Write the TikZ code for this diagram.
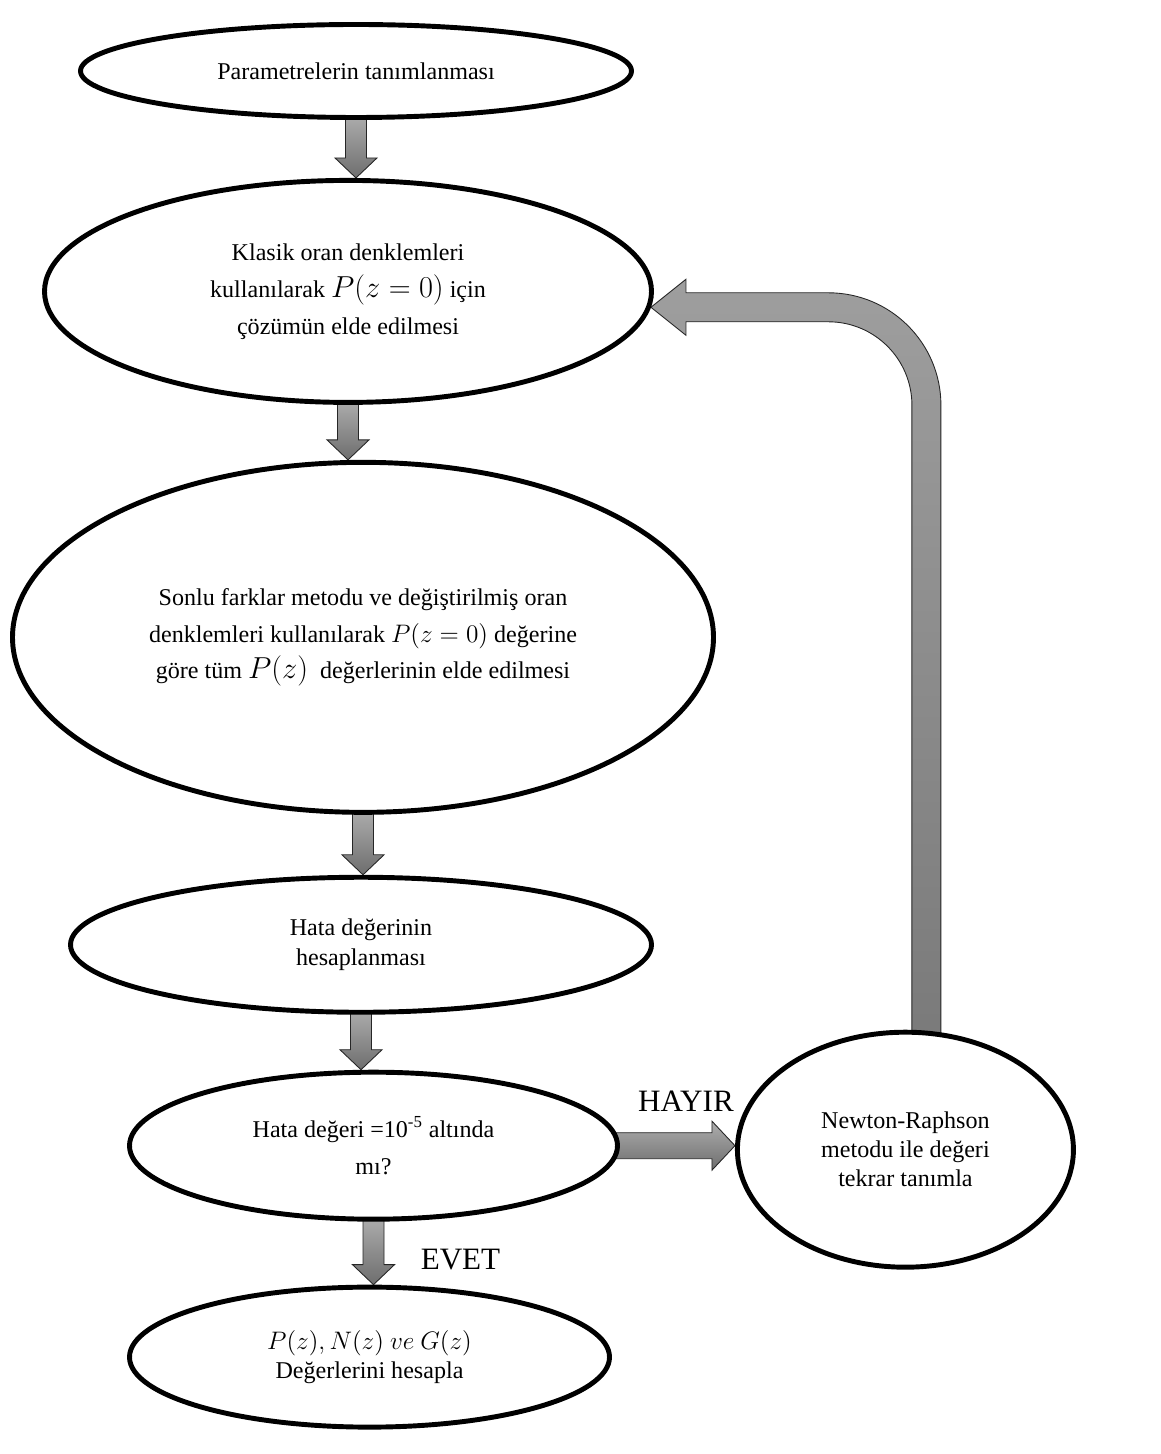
\documentclass[tikz,border=0pt]{standalone}
\usepackage{fontspec}
\setmainfont{Liberation Serif}
\usepackage{amsmath}
\usepackage{tikz}
\usetikzlibrary{shapes.geometric,positioning,calc,backgrounds}
\tikzset{
  % Base ellipse
  EL/.style={ellipse,draw,line width=2.8pt,fill=white,
             align=center,inner sep=0pt,
             font=\fontsize{13.7}{16.5}\selectfont},
  % Ellipse with formulas in its lines
  ELm/.style={EL,font=\fontsize{13.7}{21}\selectfont},
  % Block arrow body
  BA/.style={draw=black!85,line width=0.5pt,
             top color=black!32,bottom color=black!57},
  % Yes / No labels
  LB/.style={font=\fontsize{17.7}{20}\selectfont}
}
% larger formula
\newcommand{\BigM}[1]{{\fontsize{16.5}{21}\selectfont$#1$}}
% downward block arrow: shaft from #1, tip at #2
\newcommand{\DownBlock}[2]{%
  \path[BA] ($(#1)+(-0.21,0.1)$) -- ($(#2)+(-0.21,0.40)$) -- ($(#2)+(-0.42,0.40)$)
    -- (#2) -- ($(#2)+(0.42,0.40)$) -- ($(#2)+(0.21,0.40)$)
    -- ($(#1)+(0.21,0.1)$) -- cycle;}

\begin{document}
\begin{tikzpicture}
  \useasboundingbox (0,0) rectangle (23.22,-29.08);

  \node[EL,minimum width=11.02cm,minimum height=1.86cm] (par) at (7.12,-1.42)
       {Parametrelerin tanımlanması};
  \node[ELm,minimum width=12.14cm,minimum height=4.44cm,below=1.16cm of par,xshift=-0.16cm] (klas)
       {Klasik oran denklemleri\\kullanılarak \BigM{P(z=0)} için\\çözümün elde edilmesi};
  \node[ELm,minimum width=14.02cm,minimum height=7.0cm,below=1.10cm of klas,xshift=0.30cm] (sonlu)
       {Sonlu farklar metodu ve değiştirilmiş oran\\denklemleri kullanılarak $P(z=0)$ değerine\\göre tüm \BigM{P(z)}\ \ değerlerinin elde edilmesi};
  \node[EL,minimum width=11.62cm,minimum height=2.70cm,below=1.20cm of sonlu,xshift=-0.04cm,
        font=\fontsize{13.7}{17.5}\selectfont] (hata)
       {Hata değerinin\\hesaplanması};
  \node[ELm,minimum width=9.76cm,minimum height=2.94cm,below=1.10cm of hata,xshift=0.25cm] (kont)
       {Hata değeri =10\textsuperscript{-5} altında\\mı?};
  \node[EL,minimum width=6.72cm,minimum height=4.70cm,right=2.30cm of kont,yshift=-0.08cm] (newt)
       {Newton-Raphson\\metodu ile değeri\\tekrar tanımla};
  \node[EL,minimum width=9.60cm,minimum height=2.80cm,below=1.26cm of kont,xshift=-0.08cm] (sonuc)
       {$P(z), N(z)\ ve\ G(z)$\\Değerlerini hesapla};

  \node[LB] (hayir) at ($(kont.east)!0.5!(newt.west)+(0.17,0.93)$) {HAYIR};
  \node[LB] (evet)  at ($(kont.south)!0.5!(sonuc.north)+(1.78,-0.13)$) {EVET};

  \coordinate (a1) at (par.south |- klas.north);
  \coordinate (a2) at (klas.south |- sonlu.north);
  \coordinate (a3) at (sonlu.south |- hata.north);
  \coordinate (a4) at (hata.south |- kont.north);
  \coordinate (a5) at (kont.south |- sonuc.north);
  \coordinate (hy) at (kont.east -| newt.west);
  \coordinate (fbS) at ($(newt.north)+(0.42,-0.15)$);
  \coordinate (fbT) at (klas.-3);
  \coordinate (fbC) at (fbS |- fbT);

  \begin{scope}[on background layer]
    \DownBlock{par.south}{a1}
    \DownBlock{klas.south}{a2}
    \DownBlock{sonlu.south}{a3}
    \DownBlock{hata.south}{a4}
    \DownBlock{kont.south}{a5}
    % no -> Newton-Raphson
    \path[BA] ($(kont.east)+(-0.1,0.26)$) -- ($(hy)+(-0.46,0.26)$) -- ($(hy)+(-0.46,0.49)$)
      -- (hy) -- ($(hy)+(-0.46,-0.49)$) -- ($(hy)+(-0.46,-0.26)$)
      -- ($(kont.east)+(-0.1,-0.26)$) -- cycle;
    % back to the start
    \path[BA,top color=black!38,bottom color=black!52]
      ($(fbS)+(-0.29,0)$) -- ($(fbC)+(-0.29,-1.96)$) arc[start angle=0,end angle=90,radius=1.67]
      -- ($(fbT)+(0.70,-0.29)$) -- ($(fbT)+(0.70,-0.56)$) -- (fbT)
      -- ($(fbT)+(0.70,0.56)$) -- ($(fbT)+(0.70,0.29)$)
      -- ($(fbC)+(-1.96,0.29)$) arc[start angle=90,end angle=0,radius=2.25]
      -- ($(fbS)+(0.29,0)$) -- cycle;
  \end{scope}
\end{tikzpicture}
\end{document}
